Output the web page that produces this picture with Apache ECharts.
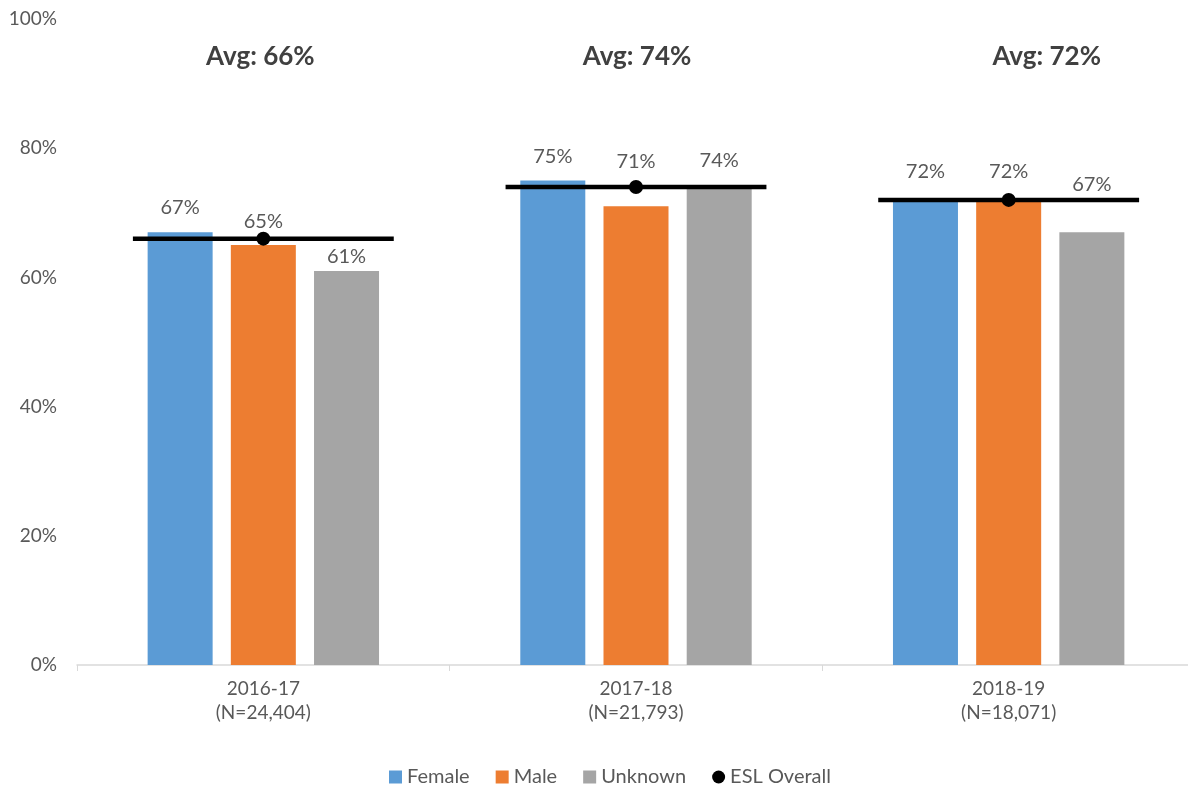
<!DOCTYPE html>
<html>
<head>
<meta charset="utf-8">
<script src="https://cdn.jsdelivr.net/npm/echarts@6/dist/echarts.min.js"></script>
<style>
  html, body { margin: 0; padding: 0; background: #fff; }
  #chart { width: 1188px; height: 789px; }
</style>
</head>
<body>
<div id="chart"></div>
<script>
// School years with their cohort sizes
const years = ['2016-17', '2017-18', '2018-19'];
const cohortSizes = ['24,404', '21,793', '18,071'];

// Completion rate (%) by gender
const female = [67, 75, 72];
const male = [65, 71, 72];
const unknown = [61, 74, 67];

// ESL overall average (%)
const eslOverall = [66, 74, 72];

// Y-axis ticks (%)
const yTicks = [0, 20, 40, 60, 80, 100];

// Extra lift (px) of each value label above its bar, per series
const labelLift = {
  Female: [10, 9, 13],
  Male: [9, 30, 13],
  Unknown: [-1, 11, 33]
};
// Horizontal nudge (px) of each "Avg" heading
const avgHeadingShift = [-3, 1, 38];

const FONT = 'Lato, "Open Sans", sans-serif';
const GREY_TEXT = '#595959';

function barSeries(name, values, color) {
  return {
    name: name,
    type: 'bar',
    barWidth: 65,
    barGap: '28%',
    itemStyle: { color: color },
    data: values.map((v, i) => ({
      value: v,
      label: { offset: [0, -labelLift[name][i]] }
    })),
    label: {
      show: true,
      position: 'top',
      distance: 5,
      formatter: '{c}%',
      color: GREY_TEXT,
      fontFamily: FONT,
      fontSize: 20
    },
    z: 2
  };
}

const chart = echarts.init(document.getElementById('chart'));

chart.setOption({
  animation: false,
  backgroundColor: '#fff',
  textStyle: { fontFamily: FONT },
  grid: {
    left: 77, top: 19, width: 1118, height: 646,
    containLabel: false,
    outerBoundsMode: 'none'
  },
  legend: {
    left: 384,
    top: 762,
    itemWidth: 13,
    itemHeight: 13,
    itemGap: 26,
    textStyle: { color: GREY_TEXT, fontSize: 20, fontFamily: FONT },
    data: [
      { name: 'Female', icon: 'rect' },
      { name: 'Male', icon: 'rect' },
      { name: 'Unknown', icon: 'rect' },
      { name: 'ESL Overall', icon: 'circle' }
    ]
  },
  xAxis: {
    type: 'category',
    data: years.map((y, i) => y + '\n(N=' + cohortSizes[i] + ')'),
    axisLine: { lineStyle: { color: '#d9d9d9', width: 1.5 } },
    axisTick: { show: true, length: 6, lineStyle: { color: '#d9d9d9' } },
    axisLabel: {
      color: GREY_TEXT,
      fontSize: 19,
      lineHeight: 24,
      margin: 12,
      fontFamily: FONT
    }
  },
  yAxis: {
    type: 'value',
    min: yTicks[0],
    max: yTicks[yTicks.length - 1],
    interval: yTicks[1] - yTicks[0],
    axisLine: { show: false },
    axisTick: { show: false },
    splitLine: { show: false },
    axisLabel: {
      formatter: '{value}%',
      color: GREY_TEXT,
      fontSize: 19,
      margin: 20,
      fontFamily: FONT
    }
  },
  series: [
    barSeries('Female', female, '#5B9BD5'),
    barSeries('Male', male, '#ED7D31'),
    barSeries('Unknown', unknown, '#A5A5A5'),
    {
      name: 'ESL Overall',
      type: 'custom',
      z: 5,
      itemStyle: { color: '#000' },
      data: eslOverall.map((v, i) => [i, v]),
      renderItem: function (params, api) {
        const idx = api.value(0);
        const val = api.value(1);
        const p = api.coord([idx, val]);
        const topY = api.coord([idx, 100])[1];
        const band = api.size([1, 0])[0];
        const half = band * 0.35;
        return {
          type: 'group',
          children: [
            {
              type: 'line',
              shape: { x1: p[0] - half, y1: p[1], x2: p[0] + half, y2: p[1] },
              style: { stroke: '#000', lineWidth: 4.5 }
            },
            {
              type: 'circle',
              shape: { cx: p[0], cy: p[1], r: 7 },
              style: { fill: '#000' }
            },
            {
              type: 'text',
              x: p[0] + avgHeadingShift[idx],
              y: topY + 38,
              style: {
                text: 'Avg: ' + val + '%',
                fill: '#404040',
                font: 'bold 26px ' + FONT,
                align: 'center',
                verticalAlign: 'middle'
              }
            }
          ]
        };
      }
    }
  ]
});
</script>
</body>
</html>
